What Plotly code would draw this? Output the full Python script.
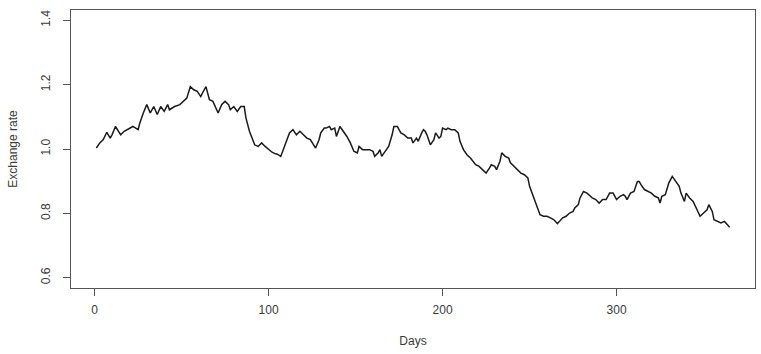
import plotly.graph_objects as go

days = [1, 2, 3, 5, 7, 9, 10, 12, 15, 17, 19, 21, 22, 25, 26, 28, 30, 32, 34, 36,
        38, 40, 42, 43, 46, 49, 51, 53, 55, 57, 59, 61, 62, 64, 66, 68, 71, 73, 75, 77,
        78, 80, 82, 84, 86, 87, 89, 91, 92, 94, 96, 98, 100, 102, 104, 105, 107, 108, 110, 112,
        114, 116, 118, 120, 122, 124, 125, 127, 129, 130, 132, 133, 135, 136, 138, 139, 141, 143, 145, 147,
        149, 151, 152, 154, 156, 158, 160, 161, 163, 164, 165, 167, 169, 171, 172, 174, 176, 178, 180, 182,
        183, 185, 186, 188, 189, 190, 191, 193, 195, 196, 198, 199, 200, 202, 203, 205, 207, 209, 210, 212,
        214, 216, 218, 219, 221, 223, 225, 227, 228, 230, 231, 233, 234, 236, 238, 239, 241, 243, 245, 247,
        249, 250, 252, 254, 256, 258, 260, 262, 264, 266, 268, 269, 271, 273, 275, 276, 278, 279, 281, 283,
        285, 286, 288, 290, 292, 294, 296, 298, 300, 302, 304, 305, 306, 308, 310, 312, 313, 314, 316, 318,
        320, 322, 324, 325, 326, 328, 330, 332, 334, 336, 337, 339, 340, 342, 344, 346, 348, 350, 352, 353,
        355, 356, 358, 360, 362, 364, 365]

rate = [1.003, 1.013, 1.019, 1.029, 1.052, 1.034, 1.044, 1.070, 1.044, 1.055, 1.060, 1.065, 1.070, 1.060, 1.081, 1.112, 1.138, 1.112, 1.132, 1.107,
        1.132, 1.117, 1.138, 1.122, 1.132, 1.138, 1.148, 1.158, 1.194, 1.184, 1.179, 1.163, 1.174, 1.194, 1.153, 1.148, 1.112, 1.138, 1.148, 1.138,
        1.122, 1.132, 1.117, 1.132, 1.132, 1.096, 1.055, 1.024, 1.013, 1.008, 1.019, 1.008, 0.998, 0.990, 0.985, 0.984, 0.977, 0.993, 1.024, 1.050,
        1.060, 1.044, 1.055, 1.044, 1.034, 1.029, 1.019, 1.003, 1.029, 1.050, 1.065, 1.065, 1.070, 1.060, 1.065, 1.039, 1.070, 1.055, 1.039, 1.019,
        0.993, 0.988, 1.008, 0.998, 0.998, 0.998, 0.993, 0.977, 0.988, 0.998, 0.977, 0.993, 1.008, 1.044, 1.070, 1.070, 1.050, 1.044, 1.034, 1.034,
        1.019, 1.034, 1.024, 1.050, 1.060, 1.055, 1.044, 1.013, 1.029, 1.050, 1.034, 1.039, 1.065, 1.060, 1.065, 1.060, 1.060, 1.050, 1.024, 0.998,
        0.982, 0.972, 0.957, 0.951, 0.946, 0.936, 0.925, 0.941, 0.951, 0.946, 0.936, 0.962, 0.988, 0.977, 0.972, 0.957, 0.946, 0.935, 0.925, 0.920,
        0.910, 0.884, 0.853, 0.822, 0.796, 0.791, 0.791, 0.786, 0.780, 0.768, 0.780, 0.786, 0.791, 0.801, 0.806, 0.817, 0.827, 0.848, 0.868, 0.863,
        0.853, 0.848, 0.843, 0.832, 0.843, 0.843, 0.863, 0.863, 0.843, 0.853, 0.858, 0.853, 0.843, 0.863, 0.868, 0.899, 0.899, 0.889, 0.874, 0.868,
        0.863, 0.853, 0.848, 0.832, 0.853, 0.858, 0.894, 0.915, 0.899, 0.884, 0.863, 0.837, 0.863, 0.848, 0.837, 0.811, 0.791, 0.801, 0.811, 0.827,
        0.806, 0.780, 0.775, 0.770, 0.775, 0.765, 0.757]

x_ticks = [0, 100, 200, 300]
y_ticks = [0.6, 0.8, 1.0, 1.2, 1.4]
y_tick_labels = ["0.6", "0.8", "1.0", "1.2", "1.4"]

fig = go.Figure()
fig.add_trace(go.Scatter(x=days, y=rate, mode="lines",
                         line=dict(color="#1a1a1a", width=1.5), showlegend=False))

font = dict(family="Liberation Sans, Arial, sans-serif", size=12, color="#3a3a3a")

fig.update_layout(
    width=761, height=354,
    margin=dict(l=71, r=6, t=10, b=66),
    paper_bgcolor="white", plot_bgcolor="white",
    font=font,
    xaxis=dict(range=[-13.56, 379.56], tickvals=x_ticks, ticktext=[str(t) for t in x_ticks],
               showgrid=False, zeroline=False, showline=True, mirror=True,
               linecolor="#555555", linewidth=1.2, ticks="outside", ticklen=7,
               tickcolor="#555555", tickwidth=1.2, ticklabelstandoff=3,
               title=dict(text="Days", standoff=21, font=font)),
    yaxis=dict(range=[0.568, 1.432], tickvals=y_ticks, ticktext=y_tick_labels,
               showgrid=False, zeroline=False, showline=True, mirror=True,
               linecolor="#555555", linewidth=1.2, ticks="outside", ticklen=7,
               tickcolor="#555555", tickwidth=1.2, tickangle=-90, ticklabelstandoff=8,
               title=dict(text="Exchange rate", standoff=18, font=font)),
)

fig.write_html("out.html")
